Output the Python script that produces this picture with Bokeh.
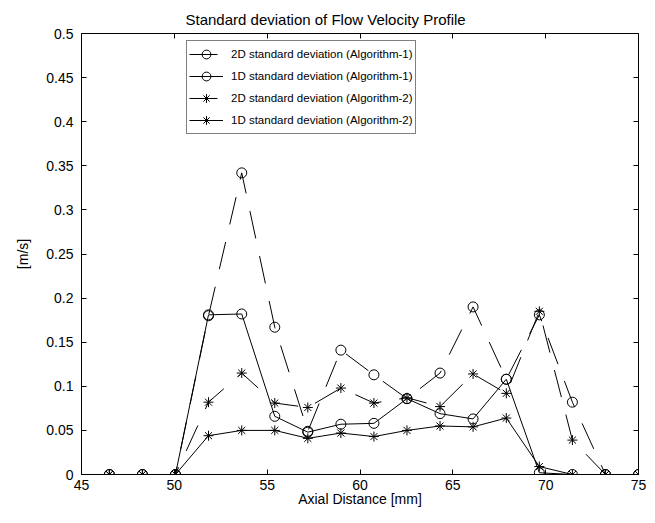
from bokeh.plotting import figure
from bokeh.models import Range1d, LinearAxis, FixedTicker, CustomJSTickFormatter
from bokeh.embed import file_html
from bokeh.resources import INLINE

# ---- data ----
x_mm = [46.5, 48.28, 50.06, 51.84, 53.63, 55.41, 57.19, 58.97, 60.75,
        62.53, 64.31, 66.09, 67.88, 69.66, 71.44, 73.22, 75.0]
std2d_alg1 = [0, 0, 0, 0.180, 0.342, 0.167, 0.049, 0.141, 0.113,
              0.086, 0.115, 0.190, 0.108, 0.181, 0.082, 0, 0]
std1d_alg1 = [0, 0, 0, 0.181, 0.182, 0.066, 0.048, 0.057, 0.058,
              0.086, 0.069, 0.063, 0.108, 0.002, 0, 0, 0]
std2d_alg2 = [0, 0, 0, 0.082, 0.115, 0.081, 0.076, 0.098, 0.081,
              0.087, 0.077, 0.114, 0.092, 0.185, 0.039, 0, 0]
std1d_alg2 = [0, 0, 0, 0.044, 0.050, 0.050, 0.041, 0.047, 0.043,
              0.050, 0.055, 0.054, 0.064, 0.009, 0, 0, 0]

labels = ["2D standard deviation (Algorithm-1)",
          "1D standard deviation (Algorithm-1)",
          "2D standard deviation (Algorithm-2)",
          "1D standard deviation (Algorithm-2)"]

x_ticks = [45, 50, 55, 60, 65, 70, 75]
y_ticks = [0, 0.05, 0.1, 0.15, 0.2, 0.25, 0.3, 0.35, 0.4, 0.45, 0.5]
y_tick_labels = ["0", "0.05", "0.1", "0.15", "0.2", "0.25", "0.3", "0.35", "0.4", "0.45", "0.5"]
title_text = "Standard deviation of Flow Velocity Profile"

FONT = "Liberation Sans"

p = figure(width=647, height=515, output_backend="svg", toolbar_location=None,
           x_range=Range1d(45, 75), y_range=Range1d(0, 0.5),
           min_border_left=81, min_border_right=9, min_border_top=33, min_border_bottom=41)

p.title.text = title_text
p.title.align = "left"
p.title.offset = 104
p.title.standoff = 12
p.title.text_line_height = 0.6
p.title.text_font = FONT
p.title.text_font_size = "15px"
p.title.text_font_style = "normal"
p.title.text_color = "black"

p.xgrid.visible = False
p.ygrid.visible = False
p.outline_line_color = "black"
p.outline_line_width = 1
p.background_fill_color = "white"
p.border_fill_color = "white"

yfmt = CustomJSTickFormatter(args=dict(tv=y_ticks, tl=y_tick_labels), code="""
const i = tv.findIndex(t => Math.abs(t - tick) < 1e-9);
return i >= 0 ? tl[i] : '';
""")

def style_axis(ax):
    ax.major_tick_in = 5
    ax.major_tick_out = 0
    ax.minor_tick_line_color = None
    ax.axis_line_color = None
    ax.major_tick_line_color = "black"
    ax.major_label_text_font = FONT
    ax.major_label_text_font_size = "14px"
    ax.major_label_text_color = "black"
    ax.axis_label_text_font = FONT
    ax.axis_label_text_font_size = "14px"
    ax.axis_label_text_font_style = "normal"
    ax.axis_label_text_color = "black"

xa = p.xaxis[0]
xa.ticker = FixedTicker(ticks=x_ticks)
xa.axis_label = "Axial Distance [mm]"
style_axis(xa)
xa.major_label_standoff = 5
xa.axis_label_standoff = -2

ya = p.yaxis[0]
ya.ticker = FixedTicker(ticks=y_ticks)
ya.formatter = yfmt
ya.axis_label = "[m/s]"
style_axis(ya)
ya.major_label_standoff = 8
ya.axis_label_standoff = 12

blank = CustomJSTickFormatter(code="return '';")

ra = LinearAxis(ticker=FixedTicker(ticks=y_ticks), formatter=blank)
style_axis(ra)
ra.major_label_standoff = 0
p.add_layout(ra, "right")

ta = LinearAxis(ticker=FixedTicker(ticks=x_ticks), formatter=blank)
style_axis(ta)
ta.major_label_standoff = 0
p.add_layout(ta, "above")

DASH = "28 18"
series = [
    (std2d_alg1, DASH, "circle", labels[0]),
    (std1d_alg1, "solid", "circle", labels[1]),
    (std2d_alg2, DASH, "asterisk", labels[2]),
    (std1d_alg2, "solid", "asterisk", labels[3]),
]
for ys, dash, mk, lab in series:
    p.line(x_mm, ys, line_color="black", line_width=1, line_dash=dash, legend_label=lab)
    p.scatter(x_mm, ys, marker=mk, size=10,
              line_color="black", fill_color=None, line_width=1, legend_label=lab)

lg = p.legend[0]
lg.location = (105, 340)
lg.border_line_color = "black"
lg.border_line_width = 1
lg.background_fill_color = "white"
lg.background_fill_alpha = 1
lg.label_text_font = FONT
lg.label_text_font_size = "11.5px"
lg.label_text_color = "black"
lg.glyph_width = 34
lg.glyph_height = 22
lg.label_height = 22
lg.spacing = 0
lg.padding = 2
lg.margin = 0
lg.label_standoff = 8

open("out.html", "w").write(file_html(p, INLINE))
